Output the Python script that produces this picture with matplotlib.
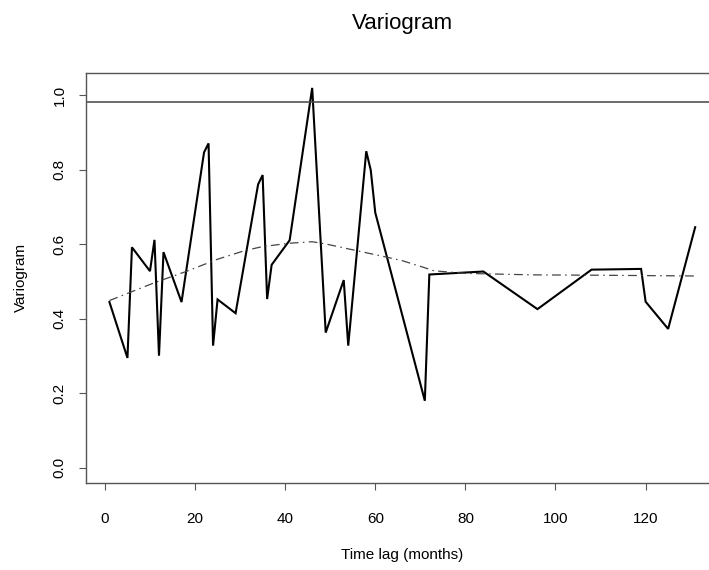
import matplotlib
matplotlib.use("Agg")
import matplotlib.pyplot as plt

plt.rcParams['font.family'] = ['Liberation Sans', 'DejaVu Sans']

# Empirical variogram (time lag in months)
lags = [1, 5, 6, 10, 11, 12, 13, 17, 22, 23, 24, 25, 29, 34, 35, 36, 37, 41, 46,
        49, 53, 54, 58, 59, 60, 71, 72, 84, 96, 108, 119, 120, 125, 131]
variogram = [0.445, 0.295, 0.592, 0.528, 0.612, 0.301, 0.579, 0.445, 0.847, 0.871,
             0.328, 0.452, 0.415, 0.761, 0.786, 0.453, 0.545, 0.611, 1.020,
             0.363, 0.504, 0.328, 0.850, 0.799, 0.685, 0.180, 0.519, 0.527,
             0.426, 0.532, 0.534, 0.446, 0.373, 0.646]

# Smoothed curve
smooth_lags = [1, 6, 11, 18, 25, 31, 35, 41, 46, 49, 57, 62, 66, 70, 73, 80, 95, 110, 131]
smooth_vals = [0.449, 0.473, 0.497, 0.527, 0.560, 0.583, 0.594, 0.603, 0.607, 0.601,
               0.580, 0.567, 0.556, 0.541, 0.529, 0.522, 0.518, 0.517, 0.515]

sill = 0.981

xticks = [0, 20, 40, 60, 80, 100, 120]
yticks = [0.0, 0.2, 0.4, 0.6, 0.8, 1.0]

fig = plt.figure(figsize=(7.09, 5.70), dpi=100)
ax = fig.add_axes([86/709, 1 - 483/570, (718.6 - 86)/709, (483 - 72.7)/570])

ax.plot(lags, variogram, color='black', lw=1.5, solid_joinstyle='miter')
ax.plot(smooth_lags, smooth_vals, color='#444444', lw=0.9,
        linestyle=(0, (7, 3.5, 1.2, 3.5)))
ax.axhline(sill, color='#444444', lw=1.1)

ax.set_xlim(-4.2, 136.2)
ax.set_ylim(-0.0408, 1.0608)
ax.set_xticks(xticks)
ax.set_xticklabels([str(v) for v in xticks])
ax.set_yticks(yticks)
ax.set_yticklabels([f"{v:.1f}" for v in yticks], rotation=90, va='center')

for s in ax.spines.values():
    s.set_color('#555555')
    s.set_linewidth(1.0)
ax.tick_params(direction='out', length=5, width=0.8, color='#555555',
               labelsize=11, labelcolor='black')
ax.tick_params(axis='x', pad=16)
ax.tick_params(axis='y', pad=9)

ax.set_xlabel('Time lag (months)', fontsize=11, labelpad=16)
ax.set_ylabel('Variogram', fontsize=11, labelpad=18)
fig.text(402/709, 1 - 24/570, 'Variogram', ha='center', va='center', fontsize=16)

fig.savefig('out.png', dpi=100)
